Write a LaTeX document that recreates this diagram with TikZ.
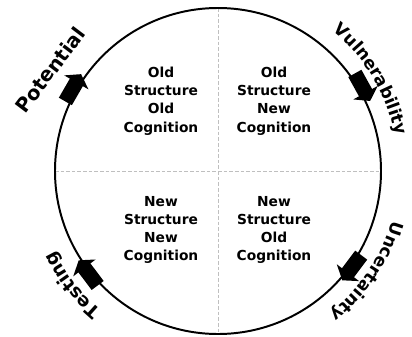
\documentclass[tikz,border=0pt]{standalone}
\usepackage{fontspec}
\usepackage{tikz}
\usetikzlibrary{decorations.text}
\newfontfamily\cyclefont{DejaVu Sans}

\tikzset{
  blockarrow/.pic={
    \fill (-19,-7.5) rectangle (4,7.5);
    \fill (3,-14) -- (12.5,0) -- (3,14) -- cycle;
  }
}

\begin{document}
\begin{tikzpicture}[
    x=0.025cm, y=0.025cm,
    every node/.style={font=\cyclefont, align=center},
    quad/.style={font=\cyclefont\bfseries\fontsize{9.8}{13}\selectfont},
    phase/.style={font=\cyclefont\bfseries\fontsize{14}{16}\selectfont, inner sep=0pt},
    divider/.style={gray!50, line width=0.7pt, dash pattern=on 2.5pt off 1.5pt},
    ring/.style={line width=1.4pt},
    arclabel/.style 2 args={decorate, decoration={text along path, text align=center,
                     text={|\cyclefont\bfseries\fontsize{#1}{14}\selectfont|#2}}}
]
\useasboundingbox (-218,-165) rectangle (194,171);

% --- Circle and quadrants ---
\coordinate (c) at (0,0);
\coordinate (top) at (90:163);
\coordinate (bottom) at (270:163);
\coordinate (left) at (180:163);
\coordinate (right) at (0:163);
\draw[divider] (top) -- (bottom);
\draw[divider] (left) -- (right);
\draw[ring] (c) circle[radius=163];

% --- Quadrant texts ---
\node[quad] (oldold) at (-57,70) {Old\\Structure\\Old\\Cognition};
\node[quad] (oldnew) at (56,70) {Old\\Structure\\New\\Cognition};
\node[quad] (newnew) at (-57,-59) {New\\Structure\\New\\Cognition};
\node[quad] (newold) at (56,-59) {New\\Structure\\Old\\Cognition};

% --- Arrows on the ring (clockwise) ---
\pic[rotate=60] at (149:167) {blockarrow};
\pic[rotate=-61] at (29:167) {blockarrow};
\pic[rotate=-127] at (-37:165) {blockarrow};
\pic[rotate=127] at (217:165) {blockarrow};

% --- Phase labels ---
\node[phase, rotate=53] (potential) at (-168,101) {Potential};
\path[arclabel={12.2}{Vulnerability}] (68:181) arc[start angle=68, end angle=-6, radius=181];
\path[arclabel={12.2}{Uncertainty}] (2:181) arc[start angle=2, end angle=-70, radius=181];
\path[arclabel={13}{Testing}] (250:182) arc[start angle=250, end angle=186, radius=182];

\end{tikzpicture}
\end{document}
